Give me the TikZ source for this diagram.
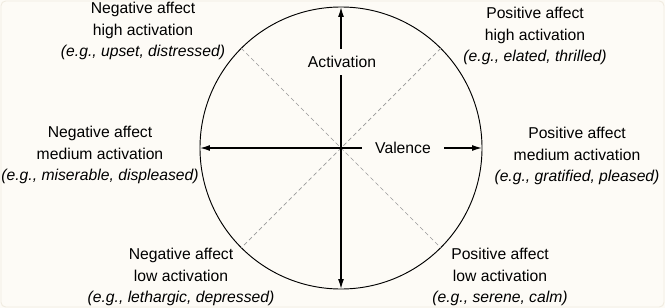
\documentclass[tikz,border=0pt]{standalone}
\usepackage{fontspec}
\setmainfont{Liberation Sans}
\usetikzlibrary{arrows.meta}
\definecolor{paper}{RGB}{253,251,246}
\definecolor{edge}{RGB}{240,235,224}

\tikzset{
  affect/.style={align=center, font=\fontsize{13.4}{18.7}\selectfont},
  axislabel/.style={fill=paper, font=\fontsize{13.4}{16}\selectfont},
  axis/.style={line width=1.1pt, {Latex[length=3mm,width=1.8mm]}-{Latex[length=3mm,width=1.8mm]}},
  diag/.style={gray!80, line width=0.6pt, dash pattern=on 3.5pt off 2.5pt},
}

\begin{document}
\begin{tikzpicture}[x=0.03cm, y=-0.03cm]
  % page and a faint frame
  \fill[paper] (0,0) rectangle (665,308);
  \draw[edge, line width=0.8pt, rounded corners=4pt] (1,1) rectangle (664,307);
  \useasboundingbox (0,0) rectangle (665,308);

  % the circumplex
  \node[circle, draw, line width=0.8pt, minimum size=8.46cm, inner sep=0pt, outer sep=0pt] (wheel) at (341,148) {};

  \draw[diag] (wheel.north west) -- (wheel.south east);
  \draw[diag] (wheel.north east) -- (wheel.south west);

  \draw[axis] (wheel.south) -- (wheel.north);
  \draw[axis] (wheel.west) -- (wheel.east);

  \node[axislabel, inner sep=6pt] (act) at (342,62) {Activation};
  \node[axislabel, inner sep=11pt] (val) at (403,148) {Valence};

  % the six regions
  \node[affect] (nhigh) at (143,31) {Negative affect\\high activation\\\textit{(e.g., upset, distressed)}};
  \node[affect] (phigh) at (535,36) {Positive affect\\high activation\\\textit{(e.g., elated, thrilled)}};
  \node[affect] (nmed) at (100,155) {Negative affect\\medium activation\\\textit{(e.g., miserable, displeased)}};
  \node[affect] (pmed) at (577,156) {Positive affect\\medium activation\\\textit{(e.g., gratified, pleased)}};
  \node[affect] (nlow) at (181,277) {Negative affect\\low activation\\\textit{(e.g., lethargic, depressed)}};
  \node[affect] (plow) at (500,277) {Positive affect\\low activation\\\textit{(e.g., serene, calm)}};
\end{tikzpicture}
\end{document}
